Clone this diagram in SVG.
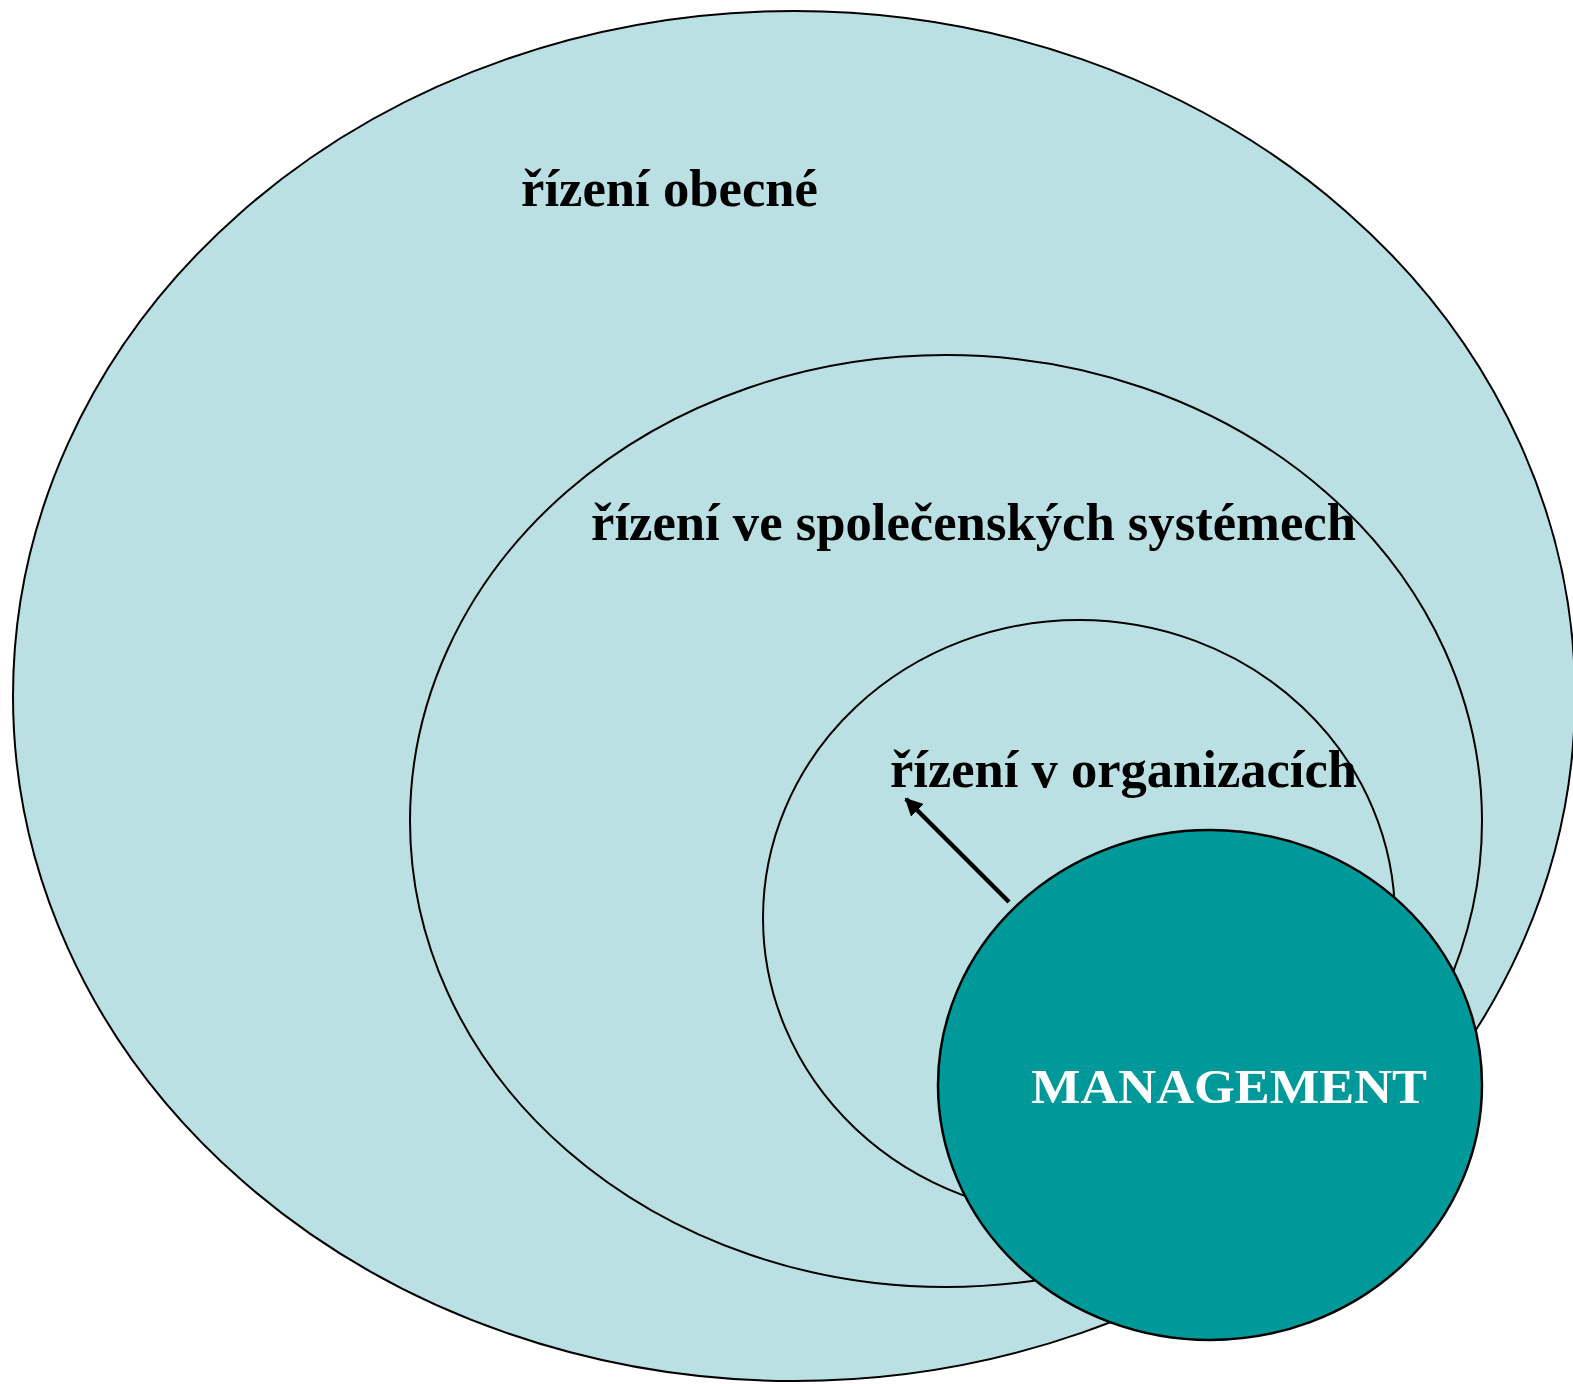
<svg xmlns="http://www.w3.org/2000/svg" width="1573" height="1384" viewBox="0 0 1573 1384">
<style>
.lvl{fill:#BBE0E3;stroke:#000;stroke-width:2}
.mg{fill:#009999;stroke:#000;stroke-width:2.5}
.t{font-family:"Liberation Serif","Times New Roman",serif;font-weight:bold;font-size:52px;fill:#000}
.tw{font-family:"Liberation Serif","Times New Roman",serif;font-weight:bold;font-size:49px;fill:#fff}
</style>
<defs>
<marker id="ah" viewBox="0 0 10 10" refX="9" refY="5" markerWidth="4" markerHeight="4" orient="auto" markerUnits="strokeWidth">
<path d="M0,0 L10,5 L0,10 z" fill="#000"/>
</marker>
</defs>
<rect width="1573" height="1384" fill="#fff"/>
<g id="obecne">
<ellipse class="lvl" cx="794" cy="696" rx="781" ry="685"/>
<text class="t" x="521" y="206" textLength="297" lengthAdjust="spacingAndGlyphs">řízení obecné</text>
</g>
<g id="spolecenske">
<ellipse class="lvl" cx="946" cy="821" rx="536" ry="466"/>
<text class="t" x="591" y="540" textLength="765" lengthAdjust="spacingAndGlyphs">řízení ve společenských systémech</text>
</g>
<g id="organizace">
<ellipse class="lvl" cx="1079" cy="918" rx="316" ry="298"/>
<text class="t" x="890" y="787" textLength="467" lengthAdjust="spacingAndGlyphs">řízení v organizacích</text>
</g>
<g id="management">
<ellipse class="mg" cx="1210" cy="1085" rx="272" ry="255"/>
<text class="tw" x="1031" y="1103" textLength="396" lengthAdjust="spacingAndGlyphs">MANAGEMENT</text>
</g>
<g id="connectors">
<line x1="1009" y1="902" x2="906" y2="799" stroke="#000" stroke-width="4.5" marker-end="url(#ah)"/>
</g>
</svg>
